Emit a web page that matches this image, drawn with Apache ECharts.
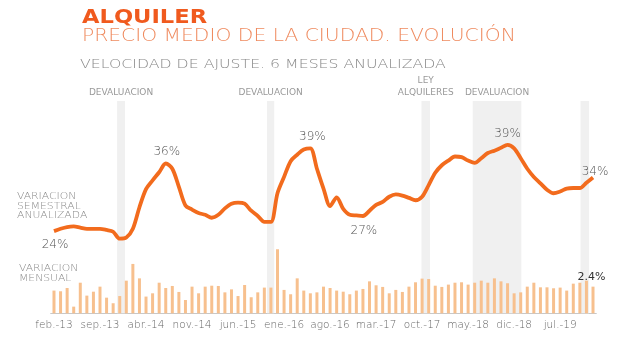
<!DOCTYPE html>
<html>
<head>
<meta charset="utf-8">
<script src="https://cdn.jsdelivr.net/npm/echarts@6/dist/echarts.min.js"></script>
<style>html,body{margin:0;padding:0;background:#fff}#c{width:640px;height:338px}</style>
</head>
<body>
<div id="c"></div>
<script>
var months = [
 'feb.-13','mar.-13','abr.-13','may.-13','jun.-13','jul.-13','ago.-13','sep.-13','oct.-13','nov.-13','dic.-13',
 'ene.-14','feb.-14','mar.-14','abr.-14','may.-14','jun.-14','jul.-14','ago.-14','sep.-14','oct.-14','nov.-14','dic.-14',
 'ene.-15','feb.-15','mar.-15','abr.-15','may.-15','jun.-15','jul.-15','ago.-15','sep.-15','oct.-15','nov.-15','dic.-15',
 'ene.-16','feb.-16','mar.-16','abr.-16','may.-16','jun.-16','jul.-16','ago.-16','sep.-16','oct.-16','nov.-16','dic.-16',
 'ene.-17','feb.-17','mar.-17','abr.-17','may.-17','jun.-17','jul.-17','ago.-17','sep.-17','oct.-17','nov.-17','dic.-17',
 'ene.-18','feb.-18','mar.-18','abr.-18','may.-18','jun.-18','jul.-18','ago.-18','sep.-18','oct.-18','nov.-18','dic.-18',
 'ene.-19','feb.-19','mar.-19','abr.-19','may.-19','jun.-19','jul.-19','ago.-19','sep.-19','oct.-19','nov.-19','dic.-19'
];
// variación semestral anualizada (%)
var semestral = [
 24.4,24.8,25.1,25.2,25.0,24.8,24.8,24.8,24.6,24.3,23.1,23.3,24.8,28.5,31.6,33.1,34.5,36.0,35.1,32.0,
 28.8,28.1,27.5,27.2,26.7,27.2,28.3,29.1,29.3,29.1,27.9,27.0,26.0,26.0,30.9,33.7,36.4,37.5,38.4,38.6,
 35.1,31.7,28.7,30.2,28.2,27.2,27.1,27.0,27.9,28.9,29.4,30.3,30.7,30.5,30.1,29.7,30.3,32.3,34.4,35.7,
 36.5,37.2,37.1,36.5,36.1,36.9,37.8,38.2,38.7,39.2,38.6,36.9,35.1,33.7,32.6,31.5,30.9,31.2,31.7,31.8,
 31.8,32.7,33.6
];
// variación mensual (%)
var mensual = [
 1.67,1.62,1.86,0.49,2.25,1.30,1.59,1.96,1.15,0.74,1.27,2.40,3.63,2.57,1.23,1.47,2.25,1.86,2.01,1.57,
 0.98,1.96,1.47,1.96,2.03,2.01,1.54,1.76,1.27,2.08,1.18,1.54,1.89,1.89,4.71,1.72,1.40,2.57,1.67,1.47,
 1.54,1.96,1.86,1.67,1.59,1.40,1.67,1.79,2.35,2.06,1.94,1.47,1.72,1.57,1.96,2.28,2.55,2.52,2.03,1.94,
 2.11,2.25,2.28,2.11,2.25,2.40,2.25,2.57,2.35,2.21,1.47,1.54,1.96,2.25,1.91,1.91,1.84,1.89,1.67,2.18,
 2.25,2.40,1.96
];
// etiquetas destacadas de la línea: índice, texto, posición
var lineLabelIdx = [0, 17, 39, 47, 69, 82];
var lineLabelTxt = ['24%', '36%', '39%', '27%', '39%', '34%'];
var lineLabelPos = ['bottom', 'top', 'top', 'bottom', 'top', 'top'];
var barLabelIdx = [81];
var barLabelTxt = ['2.4%'];
// periodos sombreados (en índice de mes)
var bandStart = [9.6, 32.4, 55.9, 63.7, 80.1];
var bandEnd   = [10.8, 33.5, 57.2, 71.1, 81.4];
var bandName  = ['DEVALUACION', 'DEVALUACION', 'LEY\nALQUILERES', 'DEVALUACION', ''];

var FONT = 'DejaVu Sans';
var lineOffsets = {0:[1,3],17:[1,-1],39:[2,0],47:[1,4],69:[0,0],82:[2,5]};

var lineData = semestral.map(function (v, i) {
  var k = lineLabelIdx.indexOf(i);
  if (k < 0) return v;
  return {value: v, label: {show: true, position: lineLabelPos[k], formatter: lineLabelTxt[k],
    offset: lineOffsets[i], color: '#555', fontSize: 12, fontWeight: 300, fontFamily: FONT}};
});
var barData = mensual.map(function (v, i) {
  var k = barLabelIdx.indexOf(i);
  if (k < 0) return v;
  return {value: v, label: {show: true, position: 'top', distance: 0, offset: [5, 2], formatter: barLabelTxt[k],
    color: '#333', fontSize: 11, fontFamily: FONT}};
});
var bandData = bandStart.map(function (s, i) {
  return [{xAxis: s, name: bandName[i]}, {xAxis: bandEnd[i]}];
});

var chart = echarts.init(document.getElementById('c'), null, {renderer: 'canvas'});
chart.setOption({
  animation: false,
  textStyle: {fontFamily: FONT},
  grid: [
    {left: 50.7, right: 43.7, top: 128.5, height: 128.3},
    {left: 50.7, right: 43.7, top: 245.3, height: 68},
    {left: 50.7, right: 43.7, top: 101, height: 212.3}
  ],
  xAxis: [
    {type: 'category', gridIndex: 0, data: months, show: false, boundaryGap: true},
    {type: 'category', gridIndex: 1, data: months, boundaryGap: true,
     axisLine: {lineStyle: {color: '#c8c8c8', width: 1}},
     axisTick: {interval: 6, alignWithLabel: true, length: 3, lineStyle: {color: '#bbb'}},
     axisLabel: {interval: 6, color: '#666', fontSize: 10.5, fontWeight: 300, margin: 6, fontFamily: FONT}},
    {type: 'value', gridIndex: 2, min: -0.5, max: 82.5, show: false}
  ],
  yAxis: [
    {type: 'value', gridIndex: 0, min: 20, max: 42, show: false},
    {type: 'value', gridIndex: 1, min: 0, max: 5, show: false},
    {type: 'value', gridIndex: 2, min: 0, max: 1, show: false}
  ],
  series: [
    {type: 'line', xAxisIndex: 2, yAxisIndex: 2, data: [], z: 0, silent: true,
     markArea: {silent: true, itemStyle: {color: '#f0f0f0'},
       label: {show: true, position: 'top', distance: 2, color: '#999', fontSize: 9,
         fontFamily: FONT, lineHeight: 12, formatter: '{b}'},
       data: bandData}},
    {type: 'bar', xAxisIndex: 1, yAxisIndex: 1, data: barData, barWidth: 3, z: 3,
     itemStyle: {color: '#f7c08e'}},
    {type: 'line', xAxisIndex: 0, yAxisIndex: 0, data: lineData, smooth: 0.3, z: 4,
     symbol: 'circle', symbolSize: 0.01, showSymbol: true, showAllSymbol: true,
     itemStyle: {color: '#f26b1d'},
     lineStyle: {color: '#f26b1d', width: 3.8}}
  ],
  graphic: [
    {type: 'text', x: 82, y: 7.5, scaleX: 1.13, style: {text: 'ALQUILER', font: 'bold 20px "DejaVu Sans"', fill: '#f05a1e'}},
    {type: 'text', x: 82, y: 27, scaleX: 1.095, style: {text: 'PRECIO MEDIO DE LA CIUDAD. EVOLUCIÓN', font: '300 18.5px "DejaVu Sans"', fill: '#ef8a5e'}},
    {type: 'text', x: 80, y: 58, scaleX: 1.21, style: {text: 'VELOCIDAD DE AJUSTE. 6 MESES ANUALIZADA', font: '300 13px "DejaVu Sans"', fill: '#888'}},
    {type: 'text', x: 17, y: 192, scaleX: 1.2, style: {text: 'VARIACION\nSEMESTRAL\nANUALIZADA', font: '300 9px "DejaVu Sans"', fill: '#888', lineHeight: 9.6}},
    {type: 'text', x: 19, y: 264, scaleX: 1.2, style: {text: 'VARIACION\nMENSUAL', font: '300 9px "DejaVu Sans"', fill: '#888', lineHeight: 10}}
  ]
});
</script>
</body>
</html>
